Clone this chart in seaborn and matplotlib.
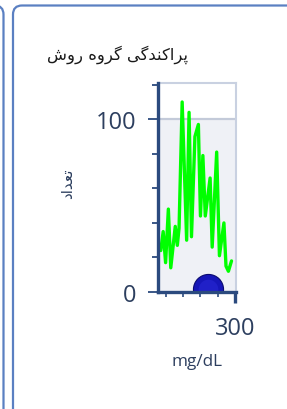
import matplotlib
matplotlib.use("Agg")
import matplotlib.pyplot as plt
import seaborn as sns
import pandas as pd
from matplotlib.patches import FancyBboxPatch
from matplotlib.ticker import FixedLocator

# data
glucose = [85, 92, 99, 107, 114, 127, 133, 138, 147, 160, 167, 174, 184, 194,
           200, 207, 214, 228, 234, 247, 255, 268, 274, 281, 290]
counts = [24, 35, 17, 48, 14, 38, 27, 37, 110, 30, 104, 32, 90, 97,
          44, 79, 44, 66, 26, 81, 21, 40, 15, 12, 18]
point_x = [222]
point_y = [2]

title = "پراکندگی گروه روش"
ylabel = "تعداد"
xlabel = "mg/dL"

# Persian letters -> presentation forms (iso, fin, ini, med); None = no left join
FORMS = {
    "پ": ("\uFB56", "\uFB57", "\uFB58", "\uFB59"),
    "ر": ("\uFEAD", "\uFEAE", None, None),
    "ا": ("\uFE8D", "\uFE8E", None, None),
    "ک": ("\uFB8E", "\uFB8F", "\uFB90", "\uFB91"),
    "ن": ("\uFEE5", "\uFEE6", "\uFEE7", "\uFEE8"),
    "د": ("\uFEA9", "\uFEAA", None, None),
    "گ": ("\uFB92", "\uFB93", "\uFB94", "\uFB95"),
    "ی": ("\uFBFC", "\uFBFD", "\uFBFE", "\uFBFF"),
    "و": ("\uFEED", "\uFEEE", None, None),
    "ه": ("\uFEE9", "\uFEEA", "\uFEEB", "\uFEEC"),
    "ش": ("\uFEB5", "\uFEB6", "\uFEB7", "\uFEB8"),
    "ت": ("\uFE95", "\uFE96", "\uFE97", "\uFE98"),
    "ع": ("\uFEC9", "\uFECA", "\uFECB", "\uFECC"),
}


def shape(text):
    out = []
    for i, ch in enumerate(text):
        if ch not in FORMS:
            out.append(ch)
            continue
        prev = text[i - 1] if i > 0 else " "
        nxt = text[i + 1] if i + 1 < len(text) else " "
        join_prev = prev in FORMS and FORMS[prev][2] is not None
        join_next = nxt in FORMS and FORMS[ch][2] is not None
        iso, fin, ini, med = FORMS[ch]
        if join_prev and join_next:
            out.append(med)
        elif join_prev:
            out.append(fin)
        elif join_next:
            out.append(ini)
        else:
            out.append(iso)
    return "".join(out)[::-1]


sns.set_theme(style="white")
plt.rcParams["font.family"] = ["Open Sans", "DejaVu Sans"]

W, H = 287, 410
fig = plt.figure(figsize=(W / 100, H / 100), dpi=100)

# card borders behind everything
bg = fig.add_axes([0, 0, 1, 1])
bg.set_xlim(0, W)
bg.set_ylim(H, 0)
bg.axis("off")
card_col = "#5b80c2"
bg.add_patch(FancyBboxPatch((13, 6.5), 320, 440, boxstyle="round,pad=0,rounding_size=9",
                            fc="white", ec=card_col, lw=1.6))
bg.add_patch(FancyBboxPatch((-320, 6.5), 323.5, 440, boxstyle="round,pad=0,rounding_size=9",
                            fc="white", ec=card_col, lw=1.6))

navy = "#2b4a7e"
text_col = "#2d3f5f"

ax = fig.add_axes([158 / W, 1 - 293 / H, 78 / W, 209 / H])
ax.set_facecolor("white")
ax.axhspan(0, 100, color="#eff1f6", zorder=0, lw=0)
ax.axhline(100, color="#c3cad9", lw=1.6, zorder=1)

df = pd.DataFrame({"mg/dL": glucose, "count": counts})
sns.lineplot(data=df, x="mg/dL", y="count", ax=ax, color="#00ff00", lw=2.4,
             solid_joinstyle="round", solid_capstyle="round", zorder=3)

pts = pd.DataFrame({"x": point_x, "y": point_y})
sns.scatterplot(data=pts, x="x", y="y", ax=ax, s=470, color="#1616b8",
                edgecolor="#0a0a70", linewidth=0.8, zorder=4, clip_on=True)
sns.scatterplot(data=pts, x="x", y="y", ax=ax, s=200, color="#2a2ad8",
                linewidth=0, alpha=0.5, zorder=4)

ax.set_xlim(77, 303)
ax.set_ylim(0, 121)

ax.xaxis.set_major_locator(FixedLocator([300]))
ax.xaxis.set_minor_locator(FixedLocator([100, 150, 200, 250]))
ax.yaxis.set_major_locator(FixedLocator([0, 100]))
ax.yaxis.set_minor_locator(FixedLocator([20, 40, 60, 80, 120]))

ax.tick_params(axis="y", which="major", length=7.5, width=1.3, color=navy,
               labelsize=17, labelcolor=text_col, pad=8, left=True)
ax.tick_params(axis="y", which="minor", length=4, width=1.3, color=navy, left=True)
ax.tick_params(axis="x", which="major", length=8, width=2.4, color=navy,
               labelsize=17, labelcolor=text_col, pad=9, bottom=True)
ax.tick_params(axis="x", which="minor", length=3.5, width=1.2, color=navy, bottom=True)

for side in ["left", "bottom"]:
    ax.spines[side].set_color(navy)
    ax.spines[side].set_linewidth(2.4)
    ax.spines[side].set_zorder(5)
for side in ["top", "right"]:
    ax.spines[side].set_color("#c9d1e1")
    ax.spines[side].set_linewidth(1.5)

ax.set_xlabel("")
ax.set_ylabel("")

fig.text(47 / W, 1 - 55 / H, shape(title), fontsize=11.8, color="#1a1a1a",
         ha="left", va="center", family=["DejaVu Sans"])
fig.text(68 / W, 1 - 184 / H, shape(ylabel), fontsize=11, color=text_col,
         ha="center", va="center", rotation=90, family=["DejaVu Sans"])
fig.text(197 / W, 1 - 362 / H, xlabel, fontsize=12.3, color=text_col,
         ha="center", va="center")

fig.savefig("out.png", dpi=100)
